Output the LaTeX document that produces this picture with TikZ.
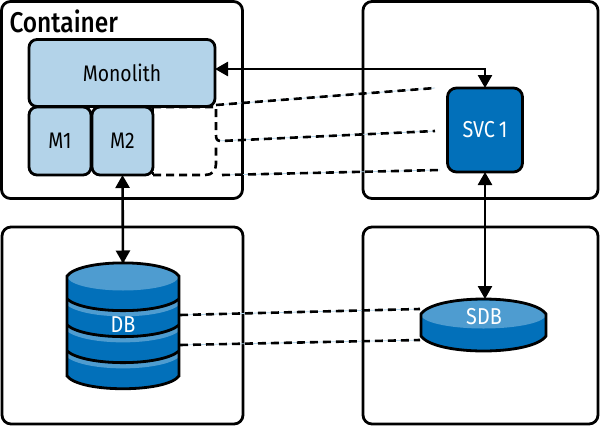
\documentclass[tikz,border=0pt]{standalone}
\usepackage{fontspec}
\setmainfont[FakeStretch=0.86]{Fira Sans}
\newfontfamily\titlefont[FakeStretch=0.86]{Fira Sans Medium}
\usetikzlibrary{arrows.meta}
\definecolor{lightb}{HTML}{B3D3E9}
\definecolor{darkb}{HTML}{0270BA}
\definecolor{midb}{HTML}{4E9CD0}
\tikzset{
  x=1pt,y=-1pt,
  every node/.style={outer sep=0pt},
  outerbox/.style={draw=black,line width=2.8pt,rounded corners=9pt,minimum width=#1,minimum height=197pt,inner sep=0pt,fill=white},
  lightbox/.style={draw=black,line width=2.8pt,rounded corners=8pt,fill=lightb,inner sep=0pt,font=\fontsize{22.5}{22.5}\selectfont},
  bidir/.style={line width=2.6pt,{Triangle[length=13pt,width=14pt]}-{Triangle[length=13pt,width=14pt]}},
  dashblack/.style={draw=black,line width=2.6pt,dash pattern=on 8pt off 5pt},
  dashunder/.style={draw=lightb,line width=0.8pt},
  cyl/.style={draw=black,line width=2.8pt},
  whitetext/.style={text=white,font=\fontsize{23}{23}\selectfont},
}
\begin{document}
\begin{tikzpicture}
\useasboundingbox (0,0) rectangle (600,426);
\fill[white] (0,0) rectangle (600,426);
% outer boxes
\node[outerbox=241pt,anchor=north west] (cont) at (1.5,1.5) {};
\node[outerbox=235pt,anchor=north west] (svcbox) at (363,1.5) {};
\node[outerbox=241pt,anchor=north west] (dbbox) at (2,227) {};
\node[outerbox=235pt,anchor=north west] (sdbbox) at (363,227) {};
\node[anchor=north west,inner sep=0pt,font=\titlefont\fontsize{28.5}{28.5}\selectfont] (ctitle) at (9.5,10) {Container};
% dashed slot
\coordinate (slotA) at (153,107);
\coordinate (slotB) at (153,175);
\coordinate (d1a) at (216,105);
\coordinate (d1b) at (435,88);
\coordinate (d2a) at (216,141);
\coordinate (d2b) at (435,131);
\coordinate (d3a) at (222,175);
\coordinate (d3b) at (440,170);
\coordinate (d4a) at (180,315);
\coordinate (d4b) at (420,309);
\coordinate (d5a) at (180,345);
\coordinate (d5b) at (420,340);
\draw[dashunder] (d1a)--(d1b) (d2a)--(d2b) (d3a)--(d3b) (d4a)--(d4b) (d5a)--(d5b);
\draw[dashblack] (d1a)--(d1b);
\draw[dashblack] (slotA) -- (216,107) -- (216,135) .. controls (216,139) and (217,141) .. (221,141) -- (d2b);
\draw[dashblack] (slotB) -- (205,175) .. controls (212,175) and (216,171) .. (216,164) -- (216,146);
\draw[dashblack] (d3a) -- (d3b);
\draw[dashblack] (d4a)--(d4b);
\draw[dashblack] (d5a)--(d5b);
% monolith
\node[lightbox,minimum width=186pt,minimum height=67pt,anchor=north west] (mono) at (29,39.5) {Monolith};
\node[lightbox,minimum width=62pt,minimum height=68pt,anchor=north west] (m1) at (29,107) {M1};
\node[lightbox,minimum width=61pt,minimum height=68pt,anchor=north west] (m2) at (92,107) {M2};
\draw[dashblack] (slotA) -- (slotB);
% svc
\node[draw=black,line width=2.8pt,rounded corners=9pt,fill=darkb,minimum width=75pt,minimum height=84pt,inner sep=0pt,whitetext,anchor=north west] (svc) at (447.5,88) {SVC\,1};
% DB cylinder
\begin{scope}
\path[clip] (67,276) .. controls (80,258.5) and (166,258.5) .. (179,276) -- (179,376) .. controls (166,393) and (80,393) .. (67,376) -- cycle;
\path[fill=darkb] (60,250) rectangle (186,400);
\path[fill=midb] (123,276) ellipse[x radius=56,y radius=14.5];
\foreach \yy in {299,325,351}{
  \draw[midb,line width=4.5pt] (67,\yy+3.5) .. controls (85,\yy+19) and (161,\yy+19) .. (179,\yy+3.5);
  \draw[cyl] (67,\yy) .. controls (85,\yy+15.5) and (161,\yy+15.5) .. (179,\yy);
}
\end{scope}
\draw[cyl] (67,276) .. controls (80,258.5) and (166,258.5) .. (179,276) -- (179,376) .. controls (166,393) and (80,393) .. (67,376) -- cycle;
\node[inner sep=0pt,minimum width=112pt,minimum height=125pt,anchor=north] (db) at (123,263.5) {};
\node[whitetext,inner sep=0pt] (dblabel) at (123,325) {DB};
% SDB cylinder
\path[fill=darkb] (421,314) .. controls (435,294) and (532,294) .. (546,314) -- (546,336) .. controls (532,356) and (435,356) .. (421,336) -- cycle;
\path[fill=midb] (483.5,314.5) ellipse[x radius=62.5,y radius=14];
\draw[cyl] (421,314) .. controls (435,294) and (532,294) .. (546,314) -- (546,336) .. controls (532,356) and (435,356) .. (421,336) -- cycle;
\node[inner sep=0pt,minimum width=125pt,minimum height=53pt,anchor=north] (sdb) at (485,299) {};
\node[whitetext,inner sep=0pt] (sdblabel) at (484,317) {SDB};
% connectors
\draw[bidir] (mono.east|-0,69) -- (485,69) -- (svc.north);
\draw[bidir] (m2.south) -- (db.north);
\draw[bidir] (svc.south) -- (sdb.north);
\end{tikzpicture}
\end{document}
